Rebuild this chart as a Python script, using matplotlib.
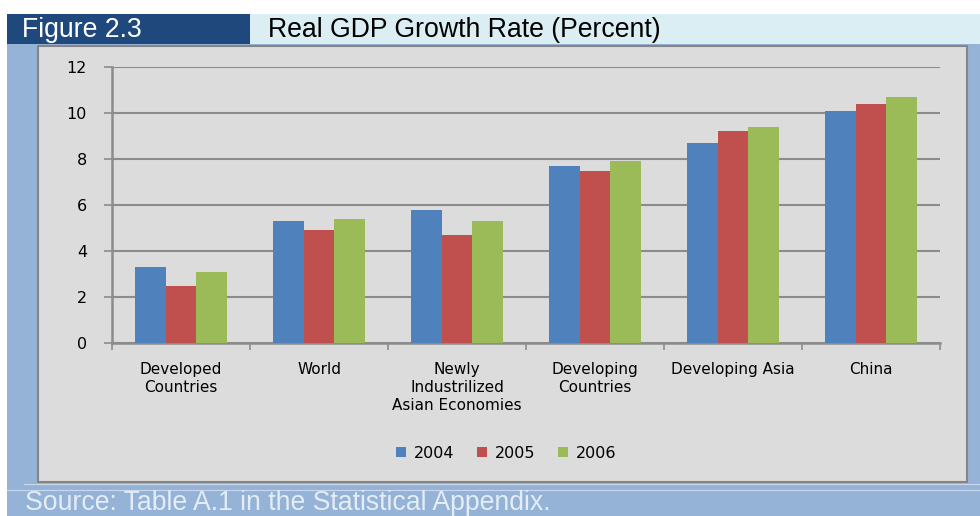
import matplotlib

matplotlib.use("Agg")
import matplotlib.pyplot as plt
import numpy as np
from matplotlib.patches import Rectangle

# Real GDP growth, percent
regions = [
    "Developed\nCountries",
    "World",
    "Newly\nIndustrilized\nAsian Economies",
    "Developing\nCountries",
    "Developing Asia",
    "China",
]
years = ["2004", "2005", "2006"]
growth_2004 = [3.3, 5.3, 5.8, 7.7, 8.7, 10.1]
growth_2005 = [2.5, 4.9, 4.7, 7.5, 9.2, 10.4]
growth_2006 = [3.1, 5.4, 5.3, 7.9, 9.4, 10.7]
y_ticks = [0, 2, 4, 6, 8, 10, 12]

colors = ["#4f81bd", "#c0504d", "#9bbb59"]
W, H = 980, 516
label_font = "DejaVu Sans"

fig = plt.figure(figsize=(W / 100, H / 100), dpi=100)
fig.patch.set_facecolor("white")


def px_rect(x0, y0, x1, y1, **kw):
    # rectangle in pixel coords measured from the top-left corner
    fig.add_artist(Rectangle((x0 / W, 1 - y1 / H), (x1 - x0) / W, (y1 - y0) / H,
                             transform=fig.transFigure, **kw))


# frame: blue backdrop, header bands, grey chart panel
px_rect(7, 44, W, H, facecolor="#95b3d7", edgecolor="none", zorder=0)
px_rect(7, 14, 250, 44, facecolor="#1f497d", edgecolor="none", zorder=0)
px_rect(250, 14, W, 44, facecolor="#dbeef4", edgecolor="none", zorder=0)
px_rect(38, 46, 967, 482, facecolor="#dcdcdc", edgecolor="#858585", linewidth=1.5, zorder=0)
fig.add_artist(plt.Line2D([24 / W, 1], [1 - 483.5 / H] * 2, transform=fig.transFigure,
                          color="#c9d8ec", linewidth=0.8))
fig.add_artist(plt.Line2D([7 / W, 1], [1 - 490 / H] * 2, transform=fig.transFigure,
                          color="#c9d8ec", linewidth=0.8))

fig.text(22 / W, 1 - 30 / H, "Figure 2.3", color="white", fontsize=19.2,
         family="Liberation Sans", va="center", ha="left")
fig.text(268 / W, 1 - 30 / H, "Real GDP Growth Rate (Percent)", color="black", fontsize=19.2,
         family="Liberation Sans", va="center", ha="left")
fig.text(25 / W, 1 - 510 / H, "Source: Table A.1 in the Statistical Appendix.", color="#e4ecf6",
         fontsize=19.2, family="Liberation Sans", va="baseline", ha="left")

ax = fig.add_axes([112 / W, 1 - 343 / H, 828 / W, 276 / H])
ax.set_facecolor("none")

x = np.arange(len(regions))
bw = 0.222
for i, (vals, c, yr) in enumerate(zip([growth_2004, growth_2005, growth_2006], colors, years)):
    ax.bar(x + (i - 1) * bw, vals, width=bw, color=c, label=yr, zorder=3,
           edgecolor="none")

ax.set_xlim(-0.5, len(regions) - 0.5)
ax.set_ylim(0, 12)
ax.set_yticks(y_ticks)
ax.yaxis.grid(True, color="#8c8c8c", linewidth=1.5, zorder=1)
ax.tick_params(axis="y", length=6, width=1.2, color="#8c8c8c", pad=12, labelsize=11.5)
for lbl in ax.get_yticklabels():
    lbl.set_family(label_font)

ax.set_xticks(x)
ax.set_xticklabels(regions, family=label_font, fontsize=11, linespacing=1.25)
ax.tick_params(axis="x", length=0, pad=14)
ax.set_xticks(np.arange(len(regions) + 1) - 0.5, minor=True)
ax.tick_params(axis="x", which="minor", length=5, width=1.2, color="#8c8c8c")

for side in ("top", "right"):
    ax.spines[side].set_visible(False)
for side in ("left", "bottom"):
    ax.spines[side].set_color("#8c8c8c")
    ax.spines[side].set_linewidth(1.8)

leg = ax.legend(loc="center", bbox_to_anchor=(506 / W, 1 - 453 / H),
                bbox_transform=fig.transFigure, ncol=3, frameon=False,
                prop={"family": label_font, "size": 11.5}, handlelength=0.63,
                handleheight=0.63, handletextpad=0.5, columnspacing=1.4)

fig.savefig("out.png", dpi=100)
